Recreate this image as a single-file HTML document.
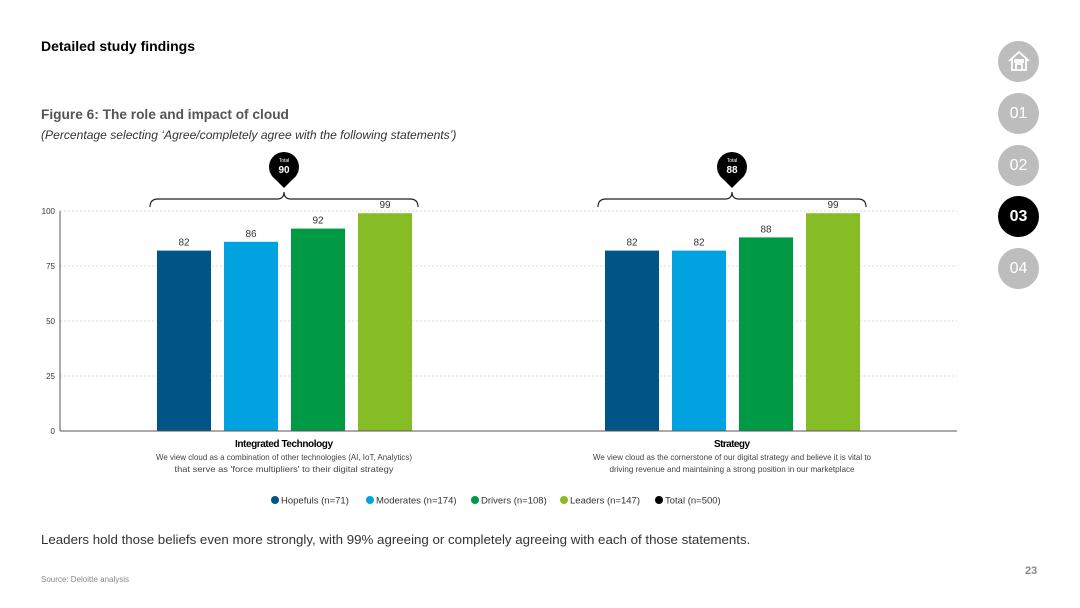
<!DOCTYPE html>
<html><head><meta charset="utf-8">
<style>
body{margin:0;width:1080px;height:608px;background:#fff;font-family:"Liberation Sans",sans-serif;position:relative;overflow:hidden}
.abs{position:absolute}
.nav{position:absolute;left:998px;width:41px;height:41px;border-radius:50%;background:#bdbdbd;color:#fff;font-size:16px;text-align:center;line-height:41px}
</style></head><body>
<div class="abs" style="left:41px;top:38px;font-size:14px;font-weight:bold;color:#000">Detailed study findings</div>
<div class="abs" style="left:41px;top:107px;font-size:13.7px;font-weight:bold;color:#555">Figure 6: The role and impact of cloud</div>
<div class="abs" style="left:41px;top:128px;font-size:12.1px;font-style:italic;color:#333">(Percentage selecting ‘Agree/completely agree with the following statements’)</div>
<div class="nav" style="top:41px"><svg width="24" height="24" viewBox="0 0 24 24" style="margin-top:8px" fill="none" stroke="#fff" stroke-width="1.8"><path d="M2 12 L12 3 L22 12 M5 10 V21 H19 V10 M9 21 V15 H15 V21 M8 11 h3 v2 h-3z M13 11 h3 v2 h-3z"/></svg></div>
<div class="nav" style="top:93px">01</div>
<div class="nav" style="top:145px">02</div>
<div class="nav" style="top:196px;background:#000;font-weight:bold">03</div>
<div class="nav" style="top:248px">04</div>
<svg id="chart" class="abs" style="left:0;top:0" width="1080" height="520"></svg>
<div class="abs" style="left:41px;top:532px;font-size:13.3px;color:#333">Leaders hold those beliefs even more strongly, with 99% agreeing or completely agreeing with each of those statements.</div>
<div class="abs" style="left:41px;top:575px;font-size:8px;color:#888">Source: Deloitte analysis</div>
<div class="abs" style="left:1025px;top:565px;font-size:11px;font-weight:bold;color:#888">23</div>
<script>
const categories=["Integrated Technology","Strategy"];
const descriptions=[["We view cloud as a combination of other technologies (AI, IoT, Analytics)","that serve as 'force multipliers' to their digital strategy"],["We view cloud as the cornerstone of our digital strategy and believe it is vital to","driving revenue and maintaining a strong position in our marketplace"]];
const seriesNames=["Hopefuls (n=71)","Moderates (n=174)","Drivers (n=108)","Leaders (n=147)","Total  (n=500)"];
const hopefuls=[82,82];
const moderates=[86,82];
const drivers=[92,88];
const leaders=[99,99];
const totals=[90,88];
const yTicks=[0,25,50,75,100];
const colors=["#005587","#00a3e0","#009a44","#86bc25","#000"];
const NS="http://www.w3.org/2000/svg";
const svg=document.getElementById('chart');
function el(t,a,p){const e=document.createElementNS(NS,t);for(const k in a)e.setAttribute(k,a[k]);(p||svg).appendChild(e);return e;}
const y=v=>431-v*2.2;
const groupCenter=i=>284+i*448;
const barX=(g,s)=>groupCenter(g)-127+s*67;
yTicks.forEach(t=>{
 if(t>0){const l=el('line',{x1:60,x2:957,y1:y(t),y2:y(t),stroke:'#ccc','stroke-dasharray':'2,2','stroke-width':0.7});}
 const tx=el('text',{x:55,y:y(t)+3,'text-anchor':'end','font-size':8,fill:'#333'});tx.textContent=t;
 
});
const ax=el('line',{x1:60,x2:60,y1:y(100),y2:431,stroke:'#555','stroke-width':1});
const series=[hopefuls,moderates,drivers,leaders];
categories.forEach((c,g)=>{
 series.forEach((arr,s)=>{
  const r=el('rect',{x:barX(g,s),y:y(arr[g]),width:54,height:arr[g]*2.2,fill:colors[s]});
  
  const t=el('text',{x:barX(g,s)+27,y:y(arr[g])-5,'text-anchor':'middle','font-size':10,fill:'#333'});t.textContent=arr[g];
  
 });
 const cx=groupCenter(g);
 const b=el('path',{d:`M${cx-134} 207 Q${cx-134} 199 ${cx-126} 199 L${cx-7} 199 Q${cx} 199 ${cx} 192 Q${cx} 199 ${cx+7} 199 L${cx+126} 199 Q${cx+134} 199 ${cx+134} 207`,fill:'none',stroke:'#222','stroke-width':1.2});
 
 const p=el('path',{d:`M${cx} 188 L${cx-9} 179 A15 15 0 1 1 ${cx+9} 179 Z`,fill:'#000'});
 
 const t1=el('text',{x:cx,y:162,'text-anchor':'middle','font-size':5,fill:'#fff'});t1.textContent='Total';
 
 const t2=el('text',{x:cx,y:173,'text-anchor':'middle','font-size':10,'font-weight':'bold',fill:'#fff'});t2.textContent=totals[g];
 
 const ct=el('text',{x:cx,y:447,'text-anchor':'middle','font-size':10,'font-weight':'bold',fill:'#000',textLength:c.length>10?98:36});ct.textContent=c;
 
 descriptions[g].forEach((d,i)=>{const dt=el('text',{x:cx,y:460+i*12,'text-anchor':'middle','font-size':8.5,fill:'#444',textLength:i==0?(g?278:256):(g?245:219),lengthAdjust:'spacingAndGlyphs'});dt.textContent=d;
  });
});
const xa=el('line',{x1:60,x2:957,y1:431,y2:431,stroke:'#555','stroke-width':1});
const lx=[271,366,471,560,655];
seriesNames.forEach((n,i)=>{
 const g=el('g',{});
 el('circle',{cx:lx[i]+4,cy:500,r:4,fill:colors[i]},g);
 const t=el('text',{x:lx[i]+10,y:503.5,'font-size':9.5,fill:'#333','xml:space':'preserve'},g);t.textContent=n;
});
</script>
</body></html>
